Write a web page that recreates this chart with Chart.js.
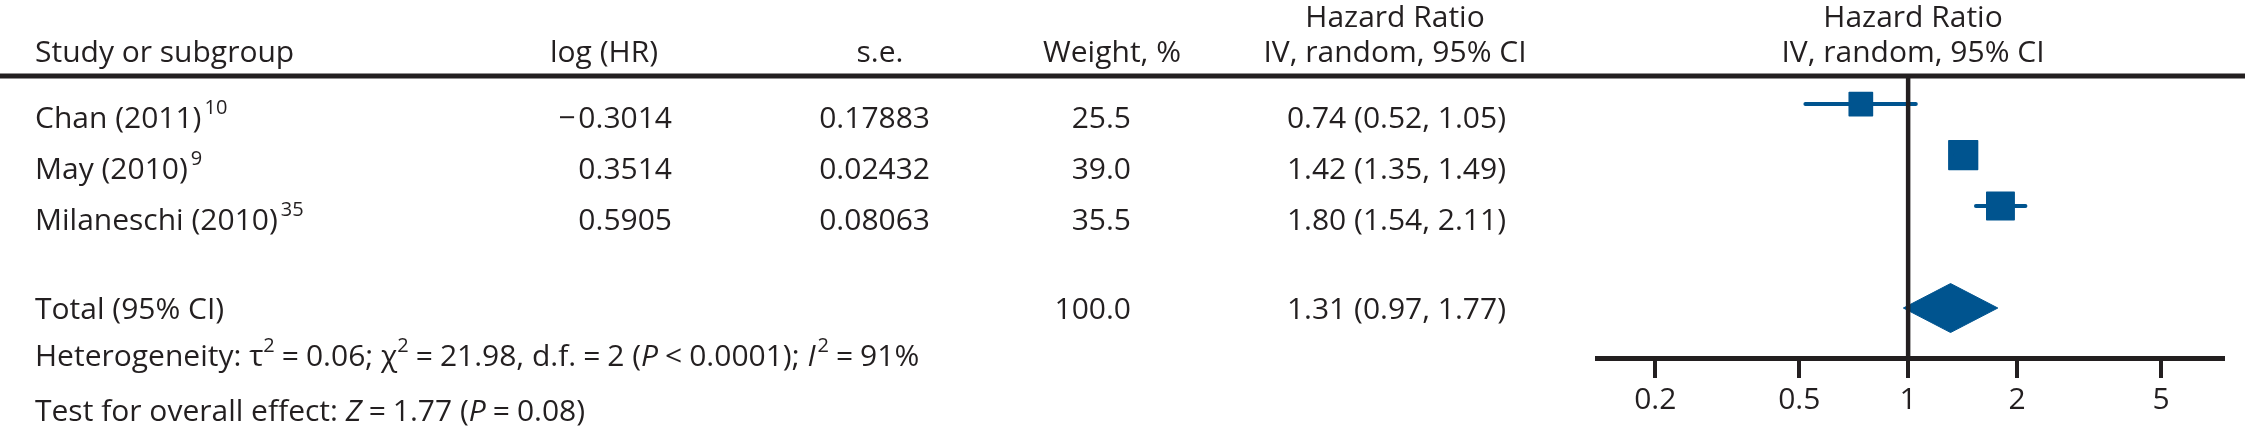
<!DOCTYPE html>
<html><head><meta charset="utf-8">
<script src="https://cdn.jsdelivr.net/npm/chart.js@4.4.1/dist/chart.umd.min.js"></script>
<style>html,body{margin:0;padding:0;background:#fff;overflow:hidden}#wrap{width:2245px;height:427px;position:relative}</style>
</head><body><div id="wrap"><canvas id="c" width="2245" height="427"></canvas></div>
<script>
// ---- data ----
const studies = ['Chan (2011)', 'May (2010)', 'Milaneschi (2010)'];
const refs = ['10', '9', '35'];
const logHR = [-0.3014, 0.3514, 0.5905];
const se = [0.17883, 0.02432, 0.08063];
const weights = [25.5, 39.0, 35.5];
const hr = [0.74, 1.42, 1.80];
const hrLo = [0.52, 1.35, 1.54];
const hrHi = [1.05, 1.49, 2.11];
const totalWeight = [100.0];
const totalHR = [1.31];
const totalLo = [0.97];
const totalHi = [1.77];
const tickValues = [0.2, 0.5, 1, 2, 5];
const headerTop = ['Hazard Ratio', 'Hazard Ratio'];
const headerBottom = ['Study or subgroup', 'log (HR)', 's.e.', 'Weight, %', 'IV, random, 95% CI', 'IV, random, 95% CI'];

// ---- styles / layout ----
const FONT = '"Open Sans", "Liberation Sans", sans-serif';
const FS = 30, SUP = 20;
const INK = '#231f20';
const BLUE = '#00548f';
const totalRow = studies.length + 1;
const DIAMOND_H = 0.48;

const datasets = [];
studies.forEach((s, i) => {
  datasets.push({
    data: [{x: hrLo[i], y: i}, {x: hrHi[i], y: i}],
    showLine: true, borderColor: BLUE, borderWidth: 4, borderCapStyle: 'round',
    pointRadius: 0, fill: false
  });
});
datasets.push({
  data: hr.map((v, i) => ({x: v, y: i})),
  showLine: false, pointStyle: 'rect',
  pointRadius: c => 4.6 * Math.sqrt(weights[c.dataIndex]) / Math.SQRT2,
  backgroundColor: BLUE, borderColor: BLUE, borderWidth: 1.5
});
datasets.push({
  data: [
    {x: totalLo[0], y: totalRow},
    {x: totalHR[0], y: totalRow - DIAMOND_H},
    {x: totalHi[0], y: totalRow},
    {x: totalHR[0], y: totalRow + DIAMOND_H},
    {x: totalLo[0], y: totalRow}
  ],
  showLine: true, fill: 'shape', tension: 0,
  backgroundColor: BLUE, borderColor: BLUE, borderWidth: 1, pointRadius: 0
});

function drawRich(ctx, segs, x, y) {
  let cx = x;
  for (const s of segs) {
    cx += s.pre || 0;
    const size = s.sup ? SUP : FS;
    ctx.font = (s.it ? 'italic ' : '') + size + 'px ' + FONT;
    ctx.fillText(s.t, cx, y - (s.sup ? 14 : 0));
    cx += ctx.measureText(s.t).width + (s.post || 0);
  }
}
const op = t => ({t: t, pre: 7, post: 7});

function drawSigned(ctx, v, d, xRight, y) {
  const txt = Math.abs(v).toFixed(d);
  ctx.textAlign = 'right';
  ctx.fillText(txt, xRight, y);
  if (v < 0) {
    const w = ctx.measureText(txt).width;
    ctx.fillText('\u2212', xRight - w - 3, y);
  }
}

const tablePlugin = {
  id: 'table',
  beforeDatasetsDraw(chart) {
    chart.ctx.lineJoin = 'round';
  },
  afterDatasetsDraw(chart) {
    const ctx = chart.ctx, xs = chart.scales.x, ys = chart.scales.y, ca = chart.chartArea;
    ctx.save();
    ctx.fillStyle = INK;
    // header rule
    ctx.fillRect(0, ca.top - 2.5, chart.width, 5);
    // null line
    const x1 = xs.getPixelForValue(1);
    ctx.fillRect(x1 - 2.25, ca.top, 4.5, ca.bottom - ca.top);

    ctx.textBaseline = 'alphabetic';
    ctx.font = FS + 'px ' + FONT;
    // headers
    ctx.textAlign = 'center';
    ctx.fillText(headerTop[0], 1395, 27);
    ctx.fillText(headerTop[1], 1913, 27);
    ctx.textAlign = 'left';
    ctx.fillText(headerBottom[0], 35, 62);
    ctx.textAlign = 'center';
    ctx.fillText(headerBottom[1], 604, 62);
    ctx.fillText(headerBottom[2], 880, 62);
    ctx.fillText(headerBottom[3], 1112, 62);
    ctx.fillText(headerBottom[4], 1395, 62);
    ctx.fillText(headerBottom[5], 1913, 62);

    // study rows
    studies.forEach((s, i) => {
      const y = ys.getPixelForValue(i) + 24;
      ctx.textAlign = 'left';
      drawRich(ctx, [{t: s, post: 3}, {t: refs[i], sup: true}], 35, y);
      ctx.font = FS + 'px ' + FONT;
      drawSigned(ctx, logHR[i], 4, 672, y);
      ctx.textAlign = 'right';
      ctx.fillText(se[i].toFixed(5), 930, y);
      ctx.fillText(weights[i].toFixed(1), 1131, y);
      ctx.fillText(hr[i].toFixed(2) + ' (' + hrLo[i].toFixed(2) + ', ' + hrHi[i].toFixed(2) + ')', 1506, y);
    });
    // total row
    const yt = ys.getPixelForValue(totalRow) + 11;
    ctx.textAlign = 'left';
    ctx.fillText('Total (95% CI)', 35, yt);
    ctx.textAlign = 'right';
    ctx.fillText(totalWeight[0].toFixed(1), 1131, yt);
    ctx.fillText(totalHR[0].toFixed(2) + ' (' + totalLo[0].toFixed(2) + ', ' + totalHi[0].toFixed(2) + ')', 1506, yt);

    ctx.textAlign = 'left';
    drawRich(ctx, [
      {t: 'Heterogeneity: \u03c4'}, {t: '2', sup: true}, op('='), {t: '0.06; \u03c7'}, {t: '2', sup: true},
      op('='), {t: '21.98, d.f.'}, op('='), {t: '2 ('}, {t: 'P', it: true}, op('<'), {t: '0.0001); '},
      {t: 'I', it: true, post: 2}, {t: '2', sup: true}, op('='), {t: '91%'}
    ], 35, 366);
    drawRich(ctx, [
      {t: 'Test for overall effect: '}, {t: 'Z', it: true}, op('='), {t: '1.77 ('}, {t: 'P', it: true},
      op('='), {t: '0.08)'}
    ], 35, 421);
    ctx.restore();
  }
};

new Chart(document.getElementById('c'), {
  type: 'scatter',
  data: { datasets: datasets },
  options: {
    responsive: false, animation: false, events: [],
    layout: { padding: { left: 1597, right: 18, top: 76, bottom: 0 } },
    plugins: { legend: { display: false }, tooltip: { enabled: false } },
    scales: {
      x: {
        type: 'logarithmic', position: 'bottom', min: 0.138, max: 7.43,
        afterBuildTicks: s => { s.ticks = tickValues.map(v => ({value: v})); },
        afterFit: s => { s.height = 427 - 358; },
        border: { display: true, color: INK, width: 5 },
        grid: { drawOnChartArea: false, drawTicks: true, tickLength: 20, tickWidth: 4, tickColor: INK, color: INK, lineWidth: 4 },
        ticks: { font: { family: FONT, size: FS }, color: INK, padding: 4, autoSkip: false, maxRotation: 0,
                 callback: v => String(v) }
      },
      y: { type: 'linear', min: -0.55, max: 4.98, reverse: true, display: false }
    }
  },
  plugins: [tablePlugin]
});
</script></body></html>
